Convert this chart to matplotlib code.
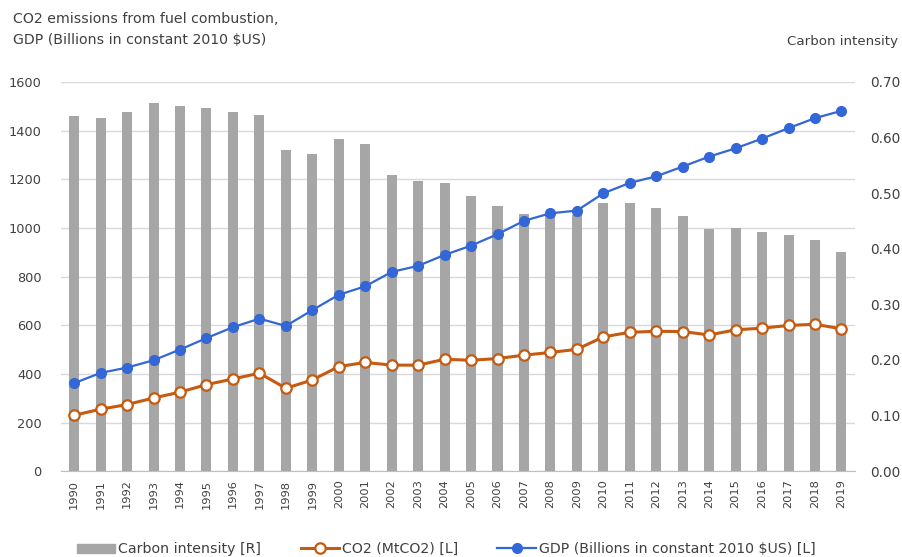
import matplotlib
matplotlib.use("Agg")
import matplotlib.pyplot as plt
from matplotlib.lines import Line2D
from matplotlib.patches import Patch

plt.rcParams['font.family'] = ['DejaVu Sans']

years = [str(y) for y in range(1990, 2020)]

# carbon intensity (right axis)
intensity = [0.639, 0.635, 0.646, 0.662, 0.656, 0.653, 0.646, 0.641, 0.578, 0.570,
             0.597, 0.588, 0.533, 0.521, 0.518, 0.494, 0.476, 0.462, 0.462, 0.461,
             0.482, 0.482, 0.473, 0.459, 0.435, 0.437, 0.430, 0.425, 0.416, 0.395]

# CO2 from fuel combustion, MtCO2 (left axis)
co2 = [230, 255, 274, 301, 325, 356, 379, 403, 341, 375,
       430, 447, 436, 436, 460, 456, 463, 477, 488, 501,
       552, 571, 575, 574, 560, 581, 588, 599, 604, 585]

# GDP, billions in constant 2010 $US (left axis)
gdp = [362, 404, 426, 456, 500, 547, 592, 627, 597, 662,
       725, 760, 819, 844, 889, 927, 974, 1029, 1060, 1071,
       1142, 1185, 1212, 1252, 1293, 1327, 1367, 1410, 1451, 1481]

txt = '#404040'
bar_c = '#a6a6a6'
orange = '#c55a11'
blue = '#3366d6'

fig = plt.figure(figsize=(9.03, 5.57), dpi=100)
ax = fig.add_axes([0.0675, 0.154, 0.879, 0.699])
ax2 = ax.twinx()

x = list(range(len(years)))

# bars go on the right axis, lines on the left one, lines drawn on top
ax2.bar(x, intensity, width=0.38, color=bar_c, zorder=1)
ax2.set_ylim(0, 0.70)
ax2.set_yticks([i / 10 for i in range(8)])
ax2.set_yticklabels(['%.2f' % (i / 10) for i in range(8)])

ax.set_zorder(ax2.get_zorder() + 1)
ax.patch.set_visible(False)
ax.plot(x, co2, color=orange, lw=2.2, marker='o', ms=7.5, mfc='white',
        mec=orange, mew=1.6, zorder=4)
ax.plot(x, gdp, color=blue, lw=1.6, marker='o', ms=7, mfc=blue,
        mec=blue, zorder=5)
ax.set_ylim(0, 1600)
ax.set_yticks(range(0, 1601, 200))
ax.set_xlim(-0.5, len(years) - 0.5)
ax.set_xticks(x)
ax.set_xticklabels(years, rotation=90)

# gridlines belong to the right axis so they sit behind the bars
for v in range(0, 1601, 200):
    ax2.axhline(v / 1600 * 0.70, color='#d9d9d9', lw=1, zorder=0)

for a in (ax, ax2):
    for s in a.spines.values():
        s.set_visible(False)
    a.tick_params(length=0, colors=txt)
ax.spines['bottom'].set_visible(True)
ax.spines['bottom'].set_color('#bfbfbf')
ax.tick_params(axis='y', pad=14, labelsize=9.3)
ax.tick_params(axis='x', pad=6, labelsize=8.2)
ax2.tick_params(axis='y', pad=11, labelsize=9.8)

fig.text(0.0145, 0.978, 'CO2 emissions from fuel combustion,\nGDP (Billions in constant 2010 $US)',
         ha='left', va='top', fontsize=10.2, color=txt, linespacing=1.65)
fig.text(0.995, 0.925, 'Carbon intensity', ha='right', va='center',
         fontsize=9.6, color=txt)

handles = [
    Patch(color=bar_c, label='Carbon intensity [R]'),
    Line2D([], [], color=orange, lw=2.2, marker='o', ms=7.5, mfc='white',
           mec=orange, mew=1.6, label='CO2 (MtCO2) [L]'),
    Line2D([], [], color=blue, lw=1.6, marker='o', ms=7, mfc=blue,
           label='GDP (Billions in constant 2010 $US) [L]'),
]
fig.legend(handles=handles, loc='center', bbox_to_anchor=(0.494, 0.014), ncol=3,
           frameon=False, fontsize=10.2, handlelength=2.7, handleheight=0.6,
           columnspacing=2.8, handletextpad=0.2, labelcolor=txt)

fig.savefig('out.png', dpi=100)
